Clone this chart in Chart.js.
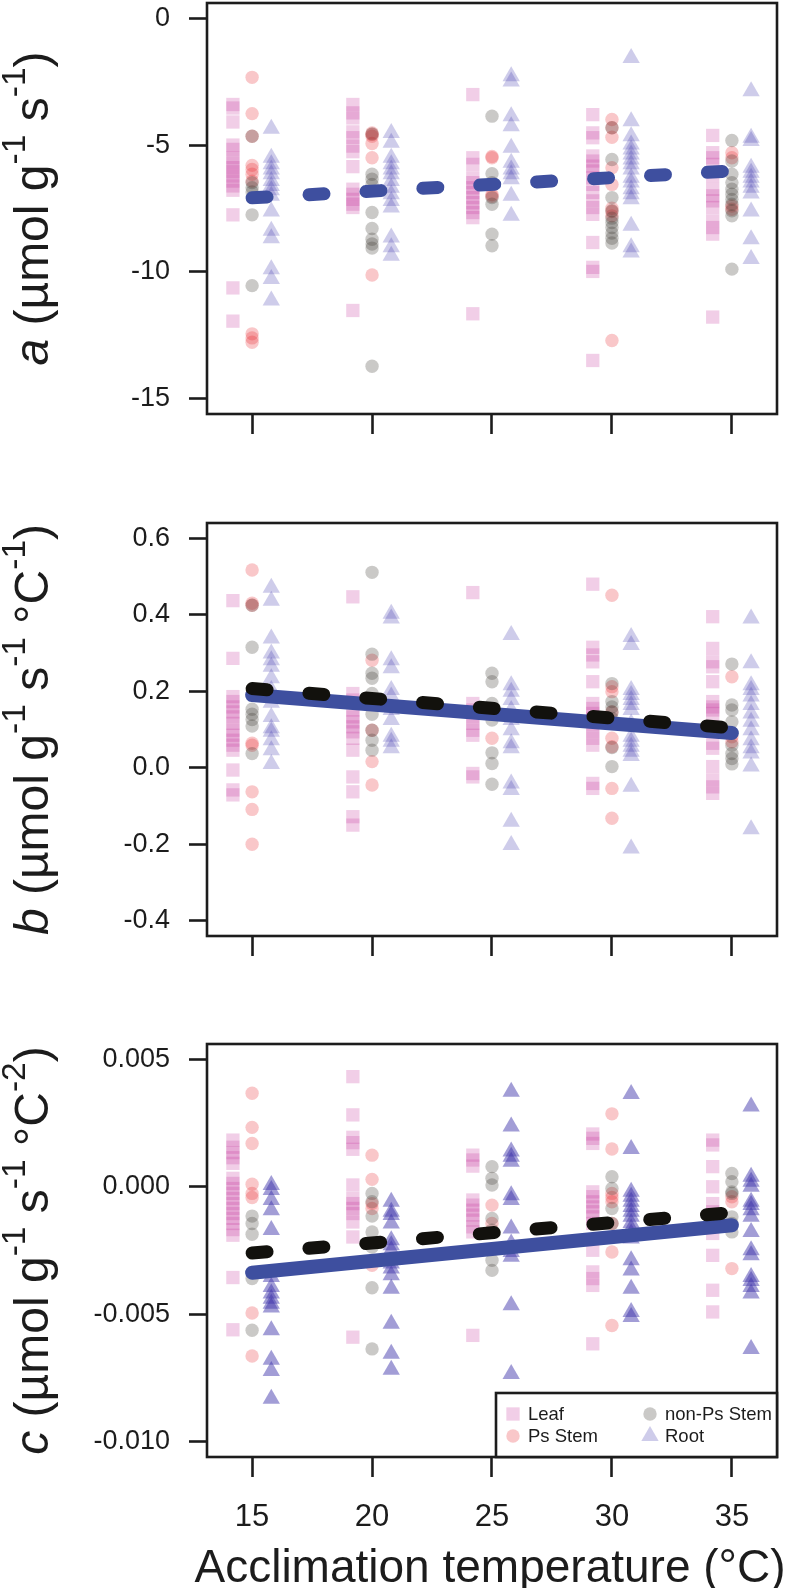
<!DOCTYPE html>
<html lang="en">
<head>
<meta charset="UTF-8">
<title>Respiration parameters vs acclimation temperature</title>
<script src="https://cdn.jsdelivr.net/npm/chart.js@4.4.1/dist/chart.umd.min.js"></script>
<style>
    html, body {
        margin: 0;
        padding: 0;
        background: #fff;
        overflow: hidden;
    }
    body {
        position: relative;
        width: 787px;
        height: 1588px;
    }
    canvas {
        position: absolute;
        left: 0;
    }
</style>
</head>
<body>
<canvas id="panelA"></canvas>
<canvas id="panelB"></canvas>
<canvas id="panelC"></canvas>

<script>
// ---- data ----
const temps = [15, 20, 25, 30, 35];
const xTicks = [15, 20, 25, 30, 35];
const fitX = [15, 35];

// tissues are dodged around each temperature
const dodge = { leaf: -0.8, ps: 0, non: 0, root: 0.8 };

// panel a
const aTicks = [-15, -10, -5, 0];
const aLeaf = [
    [-3.40, -3.54, -4.09, -5.00, -5.17, -5.50, -5.70, -5.89, -6.05, -6.22, -6.42, -6.61, -6.78, -7.75, -10.63, -11.94],
    [-3.40, -3.73, -3.93, -4.48, -4.71, -5.04, -5.26, -5.85, -6.74, -6.94, -7.14, -7.33, -7.46, -11.52],
    [-3.01, -5.50, -5.76, -6.29, -6.48, -6.68, -6.87, -7.07, -7.27, -7.46, -7.66, -7.86, -11.65],
    [-3.80, -4.52, -4.71, -5.43, -5.63, -5.83, -6.02, -6.29, -6.55, -6.87, -7.20, -7.46, -7.73, -8.84, -9.82, -9.98, -13.49],
    [-4.62, -5.30, -5.50, -5.76, -6.22, -6.74, -7.00, -7.20, -7.46, -7.99, -8.25, -8.51, -11.78]
];
const aPs = [
    [-2.33, -3.76, -4.65, -5.80, -5.96, -6.15, -6.42, -12.44, -12.60, -12.77],
    [-4.52, -4.58, -4.65, -4.94, -5.50, -10.12],
    [-5.45, -5.50, -6.95, -7.02],
    [-3.99, -4.32, -4.69, -5.89, -6.55, -7.49, -7.62, -7.79, -12.70],
    [-5.30, -5.50, -7.40, -7.53]
];
const aNon = [
    [-4.65, -6.48, -6.68, -6.85, -7.75, -10.54],
    [-4.56, -6.15, -6.35, -6.55, -7.66, -8.29, -8.71, -8.90, -9.06, -13.72],
    [-3.86, -6.13, -6.48, -7.07, -7.33, -8.51, -8.97],
    [-4.32, -5.57, -7.07, -7.59, -7.88, -8.05, -8.25, -8.47, -8.67, -8.86],
    [-4.82, -5.63, -6.15, -6.48, -6.74, -6.94, -7.14, -7.33, -7.59, -7.79, -9.89]
];
const aRoot = [
    [-4.36, -5.50, -5.76, -5.96, -6.15, -6.42, -6.61, -6.78, -7.00, -7.62, -8.38, -8.67, -9.89, -10.28, -11.13],
    [-4.52, -4.91, -5.50, -5.76, -5.96, -6.15, -6.42, -6.68, -6.94, -7.20, -7.46, -8.64, -9.03, -9.36],
    [-2.29, -2.49, -3.86, -4.26, -5.11, -5.70, -5.96, -6.15, -6.35, -7.00, -7.79],
    [-1.57, -4.06, -4.65, -4.98, -5.17, -5.37, -5.57, -5.76, -5.96, -6.29, -6.48, -6.74, -6.94, -7.14, -8.18, -9.03, -9.23],
    [-2.88, -4.71, -4.84, -5.89, -6.09, -6.29, -6.48, -6.68, -6.91, -7.62, -8.71, -9.49]
];
const aFitDashed = [-7.08, -6.02];

// panel b
const bTicks = [-0.4, -0.2, 0, 0.2, 0.4, 0.6];
const bLeaf = [
    [0.437, 0.286, 0.186, 0.173, 0.159, 0.146, 0.133, 0.116, 0.098, 0.085, 0.072, 0.059, 0.046, -0.006, -0.058, -0.071],
    [0.447, 0.194, 0.177, 0.151, 0.133, 0.120, 0.107, 0.094, 0.077, 0.046, -0.024, -0.063, -0.128, -0.150],
    [0.458, 0.168, 0.151, 0.133, 0.116, 0.098, 0.085, -0.015, -0.024],
    [0.480, 0.315, 0.295, 0.277, 0.225, 0.168, 0.155, 0.142, 0.129, 0.112, 0.094, 0.077, 0.059, -0.041, -0.054],
    [0.395, 0.312, 0.277, 0.264, 0.225, 0.173, 0.159, 0.151, 0.142, 0.107, 0.064, 0.051, 0.003, -0.032, -0.050, -0.067]
];
const bPs = [
    [0.517, 0.430, 0.425, 0.064, 0.059, -0.063, -0.109, -0.200],
    [0.281, 0.098, 0.016, -0.045],
    [0.077],
    [0.451, 0.212, 0.199, 0.146, 0.077, 0.055, -0.054, -0.132],
    [0.238, 0.081, 0.068]
];
const bNon = [
    [0.425, 0.315, 0.153, 0.140, 0.126, 0.109, 0.037],
    [0.511, 0.297, 0.247, 0.234, 0.194, 0.173, 0.140, 0.098, 0.072, 0.046],
    [0.247, 0.225, 0.168, 0.146, 0.125, 0.039, 0.011, -0.043],
    [0.220, 0.173, 0.159, 0.146, 0.129, 0.053, 0.003],
    [0.271, 0.164, 0.151, 0.120, 0.059, 0.037, 0.024, 0.010]
];
const bRoot = [
    [0.471, 0.437, 0.338, 0.299, 0.281, 0.264, 0.234, 0.203, 0.170, 0.133, 0.103, 0.094, 0.072, 0.046, 0.010],
    [0.403, 0.390, 0.281, 0.260, 0.203, 0.186, 0.151, 0.125, 0.081, 0.068, 0.051],
    [0.347, 0.216, 0.199, 0.177, 0.151, 0.125, 0.098, 0.064, 0.051, -0.041, -0.058, -0.141, -0.202],
    [0.342, 0.321, 0.203, 0.190, 0.177, 0.164, 0.151, 0.116, 0.081, 0.068, 0.055, 0.042, 0.031, -0.050, -0.211],
    [0.390, 0.273, 0.216, 0.203, 0.186, 0.164, 0.142, 0.120, 0.098, 0.072, 0.051, 0.037, 0.003, -0.161]
];
const bFitSolid = [0.190, 0.091];
const bFitDashed = [0.207, 0.104];

// panel c
const cTicks = [-0.01, -0.005, 0, 0.005];
const cLeaf = [
    [0.00183, 0.00155, 0.00134, 0.00114, 0.00092, 0.00033, 0.00013, -0.00007, -0.00026, -0.00046, -0.00066, -0.00085, -0.00105, -0.00124, -0.00144, -0.00168, -0.00190, -0.00356, -0.00561],
    [0.00432, 0.00282, 0.00194, 0.00173, 0.00147, 0.00007, -0.00046, -0.00066, -0.00085, -0.00105, -0.00138, -0.00197, -0.00590],
    [0.00124, 0.00105, 0.00081, -0.00052, -0.00072, -0.00092, -0.00111, -0.00131, -0.00157, -0.00177, -0.00583],
    [0.00207, 0.00190, 0.00170, -0.00020, -0.00039, -0.00059, -0.00079, -0.00098, -0.00118, -0.00144, -0.00249, -0.00334, -0.00360, -0.00387, -0.00616],
    [0.00183, 0.00164, 0.00079, 0.00000, -0.00066, -0.00098, -0.00138, -0.00183, -0.00269, -0.00406, -0.00491]
];
const cPs = [
    [0.00367, 0.00233, 0.00170, 0.00010, -0.00026, -0.00042, -0.00495, -0.00664],
    [0.00124, 0.00029, -0.00066, -0.00085, -0.00308],
    [-0.00072, -0.00144],
    [0.00286, 0.00148, -0.00026, -0.00042, -0.00059, -0.00144, -0.00256, -0.00544],
    [-0.00039, -0.00059, -0.00321]
];
const cNon = [
    [-0.00115, -0.00144, -0.00186, -0.00360, -0.00563],
    [-0.00026, -0.00059, -0.00115, -0.00177, -0.00236, -0.00396, -0.00636],
    [0.00079, 0.00033, 0.00007, -0.00124, -0.00170, -0.00288, -0.00328],
    [0.00039, -0.00007, -0.00085, -0.00144],
    [0.00052, 0.00020, -0.00020, -0.00026, -0.00118, -0.00144, -0.00177]
];
const cRoot = [
    [0.00007, -0.00013, -0.00052, -0.00092, -0.00170, -0.00354, -0.00393, -0.00419, -0.00439, -0.00459, -0.00474, -0.00563, -0.00679, -0.00723, -0.00832],
    [-0.00059, -0.00098, -0.00111, -0.00144, -0.00210, -0.00229, -0.00249, -0.00301, -0.00321, -0.00347, -0.00400, -0.00537, -0.00655, -0.00718],
    [0.00373, 0.00236, 0.00138, 0.00118, 0.00098, -0.00033, -0.00052, -0.00164, -0.00223, -0.00256, -0.00275, -0.00465, -0.00734],
    [0.00364, 0.00148, -0.00020, -0.00039, -0.00059, -0.00079, -0.00098, -0.00118, -0.00142, -0.00164, -0.00183, -0.00203, -0.00288, -0.00328, -0.00400, -0.00491, -0.00511],
    [0.00315, 0.00039, 0.00020, 0.00000, -0.00059, -0.00072, -0.00092, -0.00118, -0.00177, -0.00249, -0.00269, -0.00354, -0.00370, -0.00393, -0.00419, -0.00636]
];
const cFitSolid = [-0.00337, -0.00151];
const cFitDashed = [-0.00260, -0.00101];

// ---- styling ----
const INK = '#1c1c1c';
const FIT_BLUE = '#3e4f9f';
const FIT_BLACK = '#12110d';
const SANS = '"Liberation Sans", Arial, Helvetica, sans-serif';
const PAD_TOP = 40;

const styles = {
    leaf: { pointStyle: 'rect', radius: 9.4, color: 'rgba(200,60,160,0.25)' },
    ps: { pointStyle: 'circle', radius: 6.7, color: 'rgba(230,30,40,0.25)' },
    non: { pointStyle: 'circle', radius: 6.7, color: 'rgba(50,45,40,0.26)' },
    root: { pointStyle: 'triangle', radius: 10, color: 'rgba(60,50,170,0.25)' }
};

function groupPoints(values, offset) {
    return values.flatMap((col, i) => col.map(v => ({ x: temps[i] + offset, y: v })));
}

function tissueSets(leaf, ps, non, root, rootColor) {
    const mk = (label, vals, off, st, color) => ({
        type: 'scatter',
        label: label,
        data: groupPoints(vals, off),
        pointStyle: st.pointStyle,
        pointRadius: st.radius,
        pointHoverRadius: st.radius,
        backgroundColor: color || st.color,
        borderWidth: 0,
        pointBorderWidth: 0
    });
    return [
        mk('Root', root, dodge.root, styles.root, rootColor),
        mk('non-Ps Stem', non, dodge.non, styles.non),
        mk('Ps Stem', ps, dodge.ps, styles.ps),
        mk('Leaf', leaf, dodge.leaf, styles.leaf)
    ];
}

function fitLine(vals, color, dashed) {
    return {
        type: 'scatter',
        label: dashed ? 'fit dashed' : 'fit',
        data: fitX.map((x, i) => ({ x: x, y: vals[i] })),
        showLine: true,
        borderColor: color,
        borderWidth: dashed ? 13 : 14,
        borderDash: dashed ? [15, 42] : [],
        borderCapStyle: 'round',
        pointRadius: 0,
        pointHoverRadius: 0,
        fill: false
    };
}

// box round the plot region
const framePlugin = {
    id: 'frame',
    afterDatasetsDraw(chart) {
        const { ctx, chartArea: a } = chart;
        ctx.save();
        ctx.strokeStyle = INK;
        ctx.lineWidth = 2.6;
        ctx.strokeRect(a.left, a.top, a.right - a.left, a.bottom - a.top);
        ctx.restore();
    }
};

// rotated y title with superscripts
const yTitlePlugin = {
    id: 'yTitle',
    afterDraw(chart, args, opts) {
        if (!opts.parts) return;
        const { ctx, chartArea: a } = chart;
        const size = 48, supSize = 33.6, raise = 23;
        const fontOf = p => (p.it ? 'italic ' : '') + (p.sup ? supSize : size) + 'px ' + SANS;
        ctx.save();
        ctx.fillStyle = INK;
        ctx.textBaseline = 'alphabetic';
        ctx.textAlign = 'left';
        const widths = opts.parts.map(p => { ctx.font = fontOf(p); return ctx.measureText(p.t).width; });
        const total = widths.reduce((s, w) => s + w, 0);
        ctx.translate(48, (a.top + a.bottom) / 2);
        ctx.rotate(-Math.PI / 2);
        let x = -total / 2;
        opts.parts.forEach((p, i) => {
            ctx.font = fontOf(p);
            ctx.fillText(p.t, x, p.sup ? -raise : 0);
            x += widths[i];
        });
        ctx.restore();
    }
};

// x title under the last panel
const xTitlePlugin = {
    id: 'xTitle',
    afterDraw(chart, args, opts) {
        if (!opts.text) return;
        const { ctx, chartArea: a } = chart;
        ctx.save();
        ctx.fillStyle = INK;
        ctx.font = '46px ' + SANS;
        ctx.textAlign = 'center';
        ctx.textBaseline = 'alphabetic';
        ctx.fillText(opts.text, (a.left + a.right) / 2 - 2, chart.height - 6);
        ctx.restore();
    }
};

// legend box in the lower right corner of panel c
const cornerLegend = {
    id: 'cornerLegend',
    afterDraw(chart, args, opts) {
        if (!opts.show) return;
        const { ctx, chartArea: a } = chart;
        const x0 = 496, y0 = a.bottom - 64;
        ctx.save();
        ctx.fillStyle = '#fff';
        ctx.fillRect(x0, y0, a.right - x0, a.bottom - y0);
        ctx.strokeStyle = INK;
        ctx.lineWidth = 2.6;
        ctx.strokeRect(x0, y0, a.right - x0, a.bottom - y0);
        const items = [
            ['Leaf', styles.leaf, 513, a.bottom - 43],
            ['Ps Stem', styles.ps, 513, a.bottom - 21],
            ['non-Ps Stem', styles.non, 650, a.bottom - 43],
            ['Root', styles.root, 650, a.bottom - 21]
        ];
        ctx.font = '18.5px ' + SANS;
        ctx.textBaseline = 'middle';
        items.forEach(([label, st, x, y]) => {
            ctx.fillStyle = st.color;
            Chart.helpers.drawPoint(ctx, { pointStyle: st.pointStyle, radius: st.radius, borderWidth: 0, rotation: 0 }, x, y);
            ctx.fillStyle = INK;
            ctx.fillText(label, x + 15, y + 1);
        });
        ctx.restore();
    }
};

function makePanel(id, geom, yMin, yMax, yTickVals, yFmt, datasets, titleParts, isLast) {
    const canvas = document.getElementById(id);
    canvas.width = 787;
    canvas.height = geom.bottom - geom.top + PAD_TOP + geom.axisH;
    canvas.style.top = (geom.top - PAD_TOP) + 'px';

    return new Chart(canvas, {
        type: 'scatter',
        data: { datasets: datasets },
        options: {
            responsive: false,
            animation: false,
            devicePixelRatio: 1,
            events: [],
            layout: { padding: { top: PAD_TOP, right: 8, left: 0, bottom: 0 } },
            plugins: {
                legend: { display: false },
                tooltip: { enabled: false },
                yTitle: { parts: titleParts },
                xTitle: { text: isLast ? 'Acclimation temperature (°C)' : '' },
                cornerLegend: { show: isLast }
            },
            scales: {
                x: {
                    type: 'linear',
                    min: 13.12,
                    max: 36.88,
                    afterBuildTicks: s => { s.ticks = xTicks.map(v => ({ value: v })); },
                    afterFit: s => { s.height = geom.axisH; },
                    border: { display: false },
                    grid: {
                        drawOnChartArea: false,
                        drawTicks: true,
                        tickLength: 20,
                        tickWidth: 2.6,
                        tickColor: INK
                    },
                    ticks: {
                        display: isLast,
                        autoSkip: false,
                        maxRotation: 0,
                        padding: 22,
                        color: INK,
                        font: { family: SANS, size: 31 },
                        callback: v => String(v)
                    }
                },
                y: {
                    type: 'linear',
                    min: yMin,
                    max: yMax,
                    afterBuildTicks: s => { s.ticks = yTickVals.map(v => ({ value: v })); },
                    afterFit: s => { s.width = 207; },
                    border: { display: false },
                    grid: {
                        drawOnChartArea: false,
                        drawTicks: true,
                        tickLength: 18,
                        tickWidth: 2.6,
                        tickColor: INK
                    },
                    ticks: {
                        autoSkip: false,
                        padding: 19,
                        color: INK,
                        font: { family: SANS, size: 27 },
                        callback: v => yFmt(v)
                    }
                }
            }
        },
        plugins: [framePlugin, yTitlePlugin, xTitlePlugin, cornerLegend]
    });
}

makePanel('panelA', { top: 3, bottom: 414, axisH: 60 }, -15.6, 0.6, aTicks, v => String(v),
    [fitLine(aFitDashed, FIT_BLUE, true)].concat(tissueSets(aLeaf, aPs, aNon, aRoot)),
    [{ t: 'a', it: true }, { t: ' (µmol g' }, { t: '-1', sup: true }, { t: ' s' }, { t: '-1', sup: true }, { t: ')' }],
    false);

makePanel('panelB', { top: 523, bottom: 936, axisH: 60 }, -0.44, 0.64, bTicks, v => v.toFixed(1),
    [fitLine(bFitDashed, FIT_BLACK, true), fitLine(bFitSolid, FIT_BLUE, false)].concat(tissueSets(bLeaf, bPs, bNon, bRoot)),
    [{ t: 'b', it: true }, { t: ' (µmol g' }, { t: '-1', sup: true }, { t: ' s' }, { t: '-1', sup: true }, { t: ' °C' }, { t: '-1', sup: true }, { t: ')' }],
    false);

makePanel('panelC', { top: 1044, bottom: 1457, axisH: 131 }, -0.0106, 0.0056, cTicks, v => v.toFixed(3),
    [fitLine(cFitDashed, FIT_BLACK, true), fitLine(cFitSolid, FIT_BLUE, false)].concat(tissueSets(cLeaf, cPs, cNon, cRoot, 'rgba(60,50,170,0.48)')),
    [{ t: 'c', it: true }, { t: ' (µmol g' }, { t: '-1', sup: true }, { t: ' s' }, { t: '-1', sup: true }, { t: ' °C' }, { t: '-2', sup: true }, { t: ')' }],
    true);
</script>
</body>
</html>
